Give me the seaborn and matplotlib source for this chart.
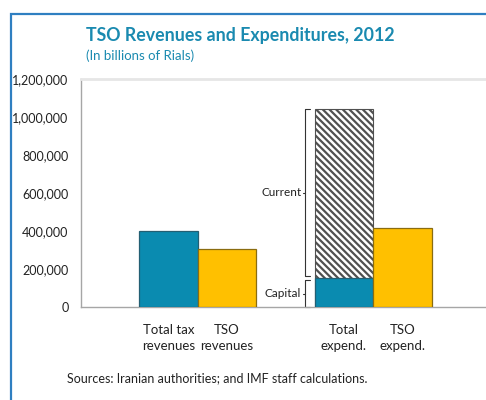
"""
TSO revenues and expenditures, 2012 (billions of Rials) - bar chart
with a stacked current/capital split for total expenditure.
"""
import pandas as pd
import matplotlib.pyplot as plt
import seaborn as sns
from matplotlib.patches import Rectangle

# Data
categories = ["Total tax\nrevenues", "TSO\nrevenues", "Total\nexpend.", "TSO\nexpend."]
values = [400000, 303000, 152000, 416000]   # expend. bar shows capital only
current_spending = 888000                    # stacked on top of capital
bar_colors = ["#0a8bb0", "#ffc000", "#0a8bb0", "#ffc000"]
edge_colors = ["#235f73", "#8a6c10", "#235f73", "#8a6c10"]
y_ticks = [0, 200000, 400000, 600000, 800000, 1000000, 1200000]

TITLE = "TSO Revenues and Expenditures, 2012"
SUBTITLE = "(In billions of Rials)"
SOURCE = "Sources: Iranian authorities; and IMF staff calculations."

TEAL_TEXT = "#1a8ab0"


def draw_brace(ax, x, y0, y1, w, label):
    """Draw a simple curly-bracket style marker on the left of a bar segment."""
    mid = (y0 + y1) / 2
    ax.plot([x + w, x, x, x - w * 0.6], [y1, y1, mid, mid], color="#333333", lw=0.8,
            solid_joinstyle="round", clip_on=False)
    ax.plot([x + w, x, x], [y0, y0, mid], color="#333333", lw=0.8,
            solid_joinstyle="round", clip_on=False)
    ax.text(x - w * 1.0, mid, label, ha="right", va="center", fontsize=8.5, color="#222222")


def main():
    sns.set_style("white")
    plt.rcParams["font.family"] = ["Lato", "DejaVu Sans"]
    plt.rcParams["hatch.linewidth"] = 1.6

    order = [categories[0], categories[1], "", categories[2], categories[3]]
    df = pd.DataFrame({"item": categories, "value": values})
    totals = pd.DataFrame({"item": [categories[2]],
                           "value": [values[2] + current_spending]})

    fig = plt.figure(figsize=(4.86, 4.0), dpi=100)
    ax = fig.add_axes([81 / 486, 93 / 400, 405 / 486, 228 / 400])

    # hatched total (current + capital), drawn first
    sns.barplot(data=totals, x="item", y="value", order=order, width=1.0,
                color="white", saturation=1, edgecolor="#505050", linewidth=0.8,
                hatch="\\\\\\\\\\", ax=ax, zorder=2)
    # solid bars (capital overlays the lower part of the total)
    sns.barplot(data=df, x="item", y="value", order=order, hue="item",
                palette=dict(zip(categories, bar_colors)), saturation=1, width=1.0,
                legend=False, ax=ax, zorder=3, linewidth=0.9)
    for patch in ax.patches:
        if patch.get_hatch():
            continue
        x_c = patch.get_x() + patch.get_width() / 2
        for i, name in enumerate(order):
            if name in categories and abs(x_c - i) < 0.01:
                patch.set_edgecolor(edge_colors[categories.index(name)])

    ax.set_xlim(-1.5, 5.43)
    ax.set_ylim(0, 1200000)
    ax.set_yticks(y_ticks)
    ax.set_yticklabels([f"{t:,}" for t in y_ticks], fontsize=9, color="#222222")
    ax.tick_params(axis="y", direction="in", length=4, color="#c8c8c8", pad=9)
    ax.tick_params(axis="x", length=0, pad=12, labelsize=9.5, labelcolor="#222222")
    for lbl in ax.get_xticklabels():
        lbl.set_linespacing(1.45)
    ax.set_xlabel("")
    ax.set_ylabel("")

    for side in ["left", "bottom"]:
        ax.spines[side].set_color("#a6a6a6")
        ax.spines[side].set_linewidth(1.0)
    ax.spines["top"].set_color("#e6e6e6")
    ax.spines["top"].set_linewidth(2.0)
    ax.spines["right"].set_visible(False)

    # brackets for the expenditure split
    bx = 3 - 0.5 - 0.16
    draw_brace(ax, bx, values[2] + 12000, values[2] + current_spending, 0.07, "Current")
    draw_brace(ax, bx, 0, values[2] - 10000, 0.07, "Capital")

    fig.text(86 / 486, 1 - 35 / 400, TITLE, fontsize=12.8, fontweight="bold",
             color=TEAL_TEXT, va="center")
    fig.text(86 / 486, 1 - 56 / 400, SUBTITLE, fontsize=9.5, color=TEAL_TEXT, va="center")
    fig.text(67 / 486, 1 - 378 / 400, SOURCE, fontsize=9, color="#222222", va="center")

    # blue outer frame (left and top edges)
    fig.patches.append(Rectangle((11 / 486, -0.05), 1.2, 1 - 14 / 400 + 0.05,
                                 transform=fig.transFigure, fill=False,
                                 edgecolor="#2f7fc1", linewidth=1.6))

    fig.savefig("out.png", dpi=100)
    plt.close(fig)


if __name__ == "__main__":
    main()
